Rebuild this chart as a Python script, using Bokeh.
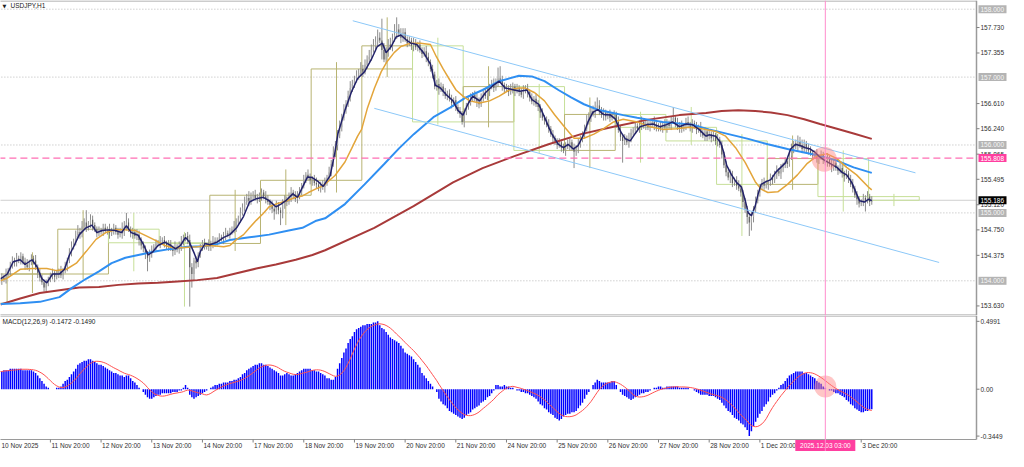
import numpy as np
import pandas as pd
from bokeh.plotting import figure
from bokeh.layouts import column
from bokeh.models import Range1d, Span
from bokeh.embed import file_html
from bokeh.resources import INLINE
from bokeh.core.properties import value

# ---------------- data ----------------
SYMBOL = "USDJPY,H1"
MACD_TITLE = "MACD(12,26,9) -0.1472 -0.1490"
FIRST_OPEN = 154.02
# H1 closes, one row per 24 bars, first bar = 10 Nov 20:00
CLOSE_ROWS = [
    [154.00, 154.05, 154.02, 154.10, 154.15, 154.22, 154.30, 154.27, 154.33, 154.30, 154.36, 154.28, 154.24, 154.20, 154.27, 154.33, 154.30, 154.20, 154.12, 154.05, 153.98, 153.90, 153.96, 154.02],
    [154.08, 154.12, 154.06, 154.10, 154.14, 154.08, 154.15, 154.22, 154.30, 154.42, 154.50, 154.58, 154.66, 154.72, 154.70, 154.80, 154.86, 154.78, 154.84, 154.90, 154.82, 154.76, 154.70, 154.74],
    [154.72, 154.78, 154.74, 154.76, 154.70, 154.74, 154.78, 154.72, 154.68, 154.74, 154.70, 154.80, 154.86, 154.76, 154.70, 154.72, 154.66, 154.68, 154.60, 154.52, 154.48, 154.40, 154.34, 154.40],
    [154.46, 154.50, 154.55, 154.56, 154.58, 154.60, 154.55, 154.50, 154.54, 154.48, 154.44, 154.50, 154.46, 154.52, 154.58, 154.62, 154.66, 154.60, 154.20, 154.10, 154.30, 154.26, 154.38, 154.48],
    [154.56, 154.52, 154.50, 154.55, 154.52, 154.58, 154.56, 154.60, 154.64, 154.62, 154.66, 154.70, 154.68, 154.72, 154.76, 154.80, 154.86, 154.92, 155.00, 155.08, 155.16, 155.22, 155.18, 155.24],
    [155.26, 155.22, 155.20, 155.26, 155.30, 155.24, 155.20, 155.16, 155.12, 155.06, 155.02, 155.10, 155.04, 155.00, 155.12, 155.20, 155.16, 155.24, 155.30, 155.26, 155.20, 155.24, 155.32, 155.40],
    [155.50, 155.56, 155.52, 155.48, 155.50, 155.44, 155.42, 155.36, 155.40, 155.38, 155.46, 155.52, 155.60, 155.72, 155.88, 156.00, 156.14, 156.26, 156.40, 156.52, 156.60, 156.72, 156.84, 156.90],
    [156.96, 157.02, 157.06, 157.12, 157.08, 157.18, 157.26, 157.30, 157.40, 157.46, 157.52, 157.58, 157.54, 157.40, 157.26, 157.38, 157.48, 157.44, 157.56, 157.62, 157.70, 157.64, 157.58, 157.66],
    [157.56, 157.50, 157.54, 157.46, 157.50, 157.44, 157.48, 157.40, 157.34, 157.38, 157.30, 157.22, 157.12, 157.04, 156.86, 156.90, 156.82, 156.86, 156.78, 156.72, 156.76, 156.68, 156.62, 156.66],
    [156.56, 156.50, 156.46, 156.34, 156.48, 156.58, 156.62, 156.70, 156.74, 156.68, 156.64, 156.60, 156.70, 156.76, 156.72, 156.80, 156.86, 156.90, 156.84, 156.92, 156.98, 156.96, 156.88, 156.82],
    [156.84, 156.78, 156.82, 156.86, 156.80, 156.84, 156.78, 156.74, 156.80, 156.84, 156.78, 156.70, 156.64, 156.68, 156.60, 156.56, 156.48, 156.40, 156.36, 156.30, 156.24, 156.16, 156.10, 156.06],
    [156.00, 156.04, 155.96, 155.92, 156.00, 155.98, 156.04, 155.96, 155.90, 155.96, 156.02, 156.08, 156.16, 156.24, 156.36, 156.42, 156.50, 156.46, 156.54, 156.58, 156.50, 156.44, 156.48, 156.42],
    [156.46, 156.40, 156.44, 156.45, 156.34, 156.22, 156.12, 156.06, 156.10, 156.04, 156.10, 156.18, 156.22, 156.28, 156.24, 156.30, 156.34, 156.28, 156.32, 156.26, 156.30, 156.34, 156.30, 156.26],
    [156.28, 156.24, 156.30, 156.26, 156.32, 156.28, 156.36, 156.40, 156.32, 156.26, 156.30, 156.24, 156.28, 156.34, 156.30, 156.26, 156.32, 156.28, 156.22, 156.26, 156.18, 156.14, 156.20, 156.12],
    [156.16, 156.10, 156.14, 156.06, 156.08, 156.00, 155.86, 155.70, 155.60, 155.52, 155.56, 155.44, 155.48, 155.40, 155.36, 155.30, 155.16, 155.06, 154.94, 154.86, 154.94, 155.06, 155.18, 155.30],
    [155.38, 155.44, 155.40, 155.42, 155.44, 155.52, 155.48, 155.56, 155.62, 155.58, 155.66, 155.70, 155.76, 155.72, 155.84, 155.96, 156.02, 155.98, 156.06, 156.00, 155.94, 156.02, 155.96, 155.92],
    [155.88, 155.84, 155.86, 155.80, 155.82, 155.86, 155.78, 155.74, 155.80, 155.72, 155.68, 155.74, 155.66, 155.62, 155.66, 155.58, 155.54, 155.58, 155.50, 155.42, 155.36, 155.26, 155.20, 155.14],
    [155.16, 155.22, 155.18, 155.24, 155.16, 155.186],
]
# wick lengths above/below the body, base-36 digits in units of WICK_UNIT
WICK_UNIT = 0.02
HI_WICK_ROWS = [
    "2324 2332 4232 3423 2423 2232", "2323 2423 2342 4534 3924 3223", "2332 4232 3264 7323 2432 3223",
    "3232 4232 3324 2343 2343 2323", "2323 2432 3234 2324 3243 4353", "3432 3243 2324 3243 2342 3432",
    "3243 2342 3432 4353 4534 3453", "3435 3435 4546 4g53 4548 9443", "3232 4323 2343 2323 4323 2332",
    "3232 3243 2343 3243 2343 8932", "3243 2323 4232 3243 2323 4232", "2323 2432 3243 2343 3456 4332",
    "2323 2432 3243 2323 4232 3242", "2324 3238 2423 2342 3232 4232", "3232 4232 3243 2343 2323 4232",
    "2343 2323 4232 3243 2343 4323", "3234 2323 4232 3243 2323 4232", "2324 23",
]
LO_WICK_ROWS = [
    "2323 2423 3232 4232 3243 2342", "2342 3232 4232 3243 2323 4232", "2323 4232 3242 3234 2343 34a3",
    "3232 4232 3243 2343 23ta 5432", "2323 4232 3243 2323 4232 3243", "3232 4232 4362 3943 3243 2323",
    "2323 4232 3243 2323 4232 3243", "3232 4232 3243 2723 4232 3243", "2323 4232 3243 2323 4232 3243",
    "3232 4232 3243 2323 4232 3243", "2323 4232 3243 2323 4232 3243", "3232 4232 c343 2323 4232 3243",
    "2323 423g 3243 2323 4232 3243", "3232 4232 3243 2323 4232 3243", "2323 4232 3243 2323 435a 6432",
    "3232 4232 3243 2323 4232 3243", "2323 4232 3243 2323 4232 3243", "2382 32",
]
# MACD main line per bar
MACD_ROWS = [
    [0.13, 0.13, 0.14, 0.14, 0.14, 0.15, 0.15, 0.15, 0.15, 0.15, 0.15, 0.14, 0.14, 0.14, 0.14, 0.14, 0.13, 0.12, 0.10, 0.08, 0.06, 0.04, 0.02, 0.01],
    [0.00, 0.00, 0.00, 0.01, 0.01, 0.02, 0.04, 0.06, 0.07, 0.09, 0.11, 0.13, 0.15, 0.18, 0.19, 0.20, 0.21, 0.21, 0.22, 0.22, 0.21, 0.20, 0.19, 0.18],
    [0.18, 0.17, 0.16, 0.15, 0.14, 0.13, 0.12, 0.12, 0.11, 0.10, 0.10, 0.09, 0.10, 0.10, 0.08, 0.06, 0.05, 0.03, 0.01, 0.00, -0.02, -0.04, -0.06, -0.07],
    [-0.07, -0.06, -0.05, -0.04, -0.04, -0.03, -0.03, -0.03, -0.03, -0.03, -0.02, -0.02, -0.02, -0.01, -0.01, 0.01, 0.03, 0.01, -0.04, -0.06, -0.07, -0.06, -0.05, -0.04],
    [-0.03, -0.02, -0.01, 0.00, 0.01, 0.02, 0.03, 0.03, 0.04, 0.04, 0.05, 0.05, 0.05, 0.06, 0.06, 0.07, 0.07, 0.08, 0.09, 0.11, 0.12, 0.14, 0.15, 0.16],
    [0.17, 0.18, 0.18, 0.19, 0.19, 0.18, 0.18, 0.17, 0.16, 0.15, 0.14, 0.13, 0.12, 0.10, 0.10, 0.11, 0.12, 0.11, 0.10, 0.10, 0.11, 0.12, 0.13, 0.14],
    [0.15, 0.15, 0.15, 0.15, 0.14, 0.14, 0.13, 0.13, 0.12, 0.11, 0.10, 0.08, 0.08, 0.07, 0.07, 0.09, 0.15, 0.19, 0.23, 0.27, 0.30, 0.34, 0.37, 0.39],
    [0.42, 0.44, 0.45, 0.46, 0.47, 0.47, 0.48, 0.48, 0.48, 0.49, 0.49, 0.499, 0.47, 0.45, 0.44, 0.42, 0.40, 0.38, 0.37, 0.36, 0.35, 0.34, 0.32, 0.30],
    [0.27, 0.26, 0.25, 0.24, 0.22, 0.20, 0.18, 0.16, 0.12, 0.10, 0.08, 0.06, 0.04, 0.02, 0.00, -0.02, -0.07, -0.09, -0.11, -0.12, -0.14, -0.16, -0.17, -0.18],
    [-0.19, -0.20, -0.21, -0.22, -0.21, -0.19, -0.18, -0.17, -0.15, -0.14, -0.13, -0.12, -0.10, -0.09, -0.08, -0.06, -0.05, -0.03, -0.01, 0.03, 0.03, 0.02, 0.02, 0.03],
    [0.02, 0.02, 0.01, 0.01, 0.00, -0.01, -0.01, -0.02, -0.02, -0.03, -0.03, -0.04, -0.05, -0.06, -0.07, -0.09, -0.11, -0.12, -0.14, -0.15, -0.17, -0.18, -0.19, -0.21],
    [-0.22, -0.23, -0.22, -0.20, -0.19, -0.18, -0.18, -0.17, -0.17, -0.16, -0.14, -0.12, -0.10, -0.07, -0.04, -0.02, 0.00, 0.03, 0.05, 0.07, 0.06, 0.05, 0.05, 0.05],
    [0.05, 0.05, 0.06, 0.06, 0.03, 0.00, -0.02, -0.04, -0.05, -0.06, -0.07, -0.08, -0.07, -0.06, -0.05, -0.04, -0.03, -0.03, -0.02, -0.02, -0.01, 0.00, 0.01, 0.01],
    [0.02, 0.02, 0.01, 0.01, 0.02, 0.02, 0.02, 0.02, 0.02, 0.02, 0.01, 0.01, 0.01, 0.01, 0.01, 0.00, 0.00, -0.01, -0.02, -0.03, -0.04, -0.04, -0.04, -0.04],
    [-0.05, -0.05, -0.05, -0.06, -0.07, -0.08, -0.10, -0.12, -0.14, -0.16, -0.17, -0.19, -0.21, -0.22, -0.23, -0.25, -0.26, -0.28, -0.30, -0.345, -0.31, -0.27, -0.24, -0.21],
    [-0.18, -0.16, -0.13, -0.11, -0.09, -0.06, -0.04, -0.03, -0.01, 0.01, 0.03, 0.04, 0.06, 0.08, 0.10, 0.11, 0.12, 0.13, 0.13, 0.13, 0.13, 0.12, 0.12, 0.11],
    [0.10, 0.09, 0.08, 0.06, 0.05, 0.04, 0.02, 0.01, 0.00, -0.01, -0.01, -0.02, -0.03, -0.03, -0.04, -0.05, -0.06, -0.08, -0.09, -0.11, -0.12, -0.14, -0.15, -0.16],
    [-0.17, -0.17, -0.16, -0.16, -0.15, -0.1472],
]
SIGNAL_PERIOD = 9

# moving averages: (bar index, price)
MA_FAST = [(0.4, 154.03), (3.6, 154.10), (6.4, 154.28), (9.7, 154.31), (12, 154.24), (15.3, 154.31), (17.6, 154.21), (20, 154.03), (22.3, 153.97), (25, 154.10), (28.3, 154.10), (30.7, 154.17), (33, 154.38), (35.3, 154.52), (37.7, 154.68), (40.9, 154.78), (43.7, 154.82), (46, 154.71), (48.4, 154.74), (51.6, 154.75), (54.9, 154.74), (57.7, 154.71), (60, 154.81), (62.3, 154.71), (65.6, 154.67), (68, 154.54), (70.3, 154.38), (72.6, 154.43), (75, 154.52), (78.2, 154.57), (81, 154.52), (83.3, 154.47), (85.6, 154.52), (88, 154.64), (89.8, 154.57), (92.2, 154.40), (93.6, 154.28), (95, 154.43), (97.3, 154.55), (99.6, 154.53), (102.9, 154.57), (106.1, 154.64), (109, 154.68), (112.2, 154.78), (115.5, 154.95), (118.3, 155.16), (121.5, 155.21), (124.8, 155.23), (127.6, 155.18), (130.8, 155.09), (133.2, 155.13), (135.5, 155.18), (138.8, 155.28), (141.1, 155.23), (143.4, 155.38), (145.8, 155.53), (148, 155.52), (150.9, 155.46), (153.2, 155.39), (156.5, 155.55), (158.8, 155.90), (160.2, 156.17), (163.5, 156.51), (166.7, 156.79), (169.5, 156.98), (172.8, 157.08), (176, 157.26), (178.8, 157.45), (181.2, 157.50), (183, 157.36), (185.4, 157.45), (187.7, 157.59), (190, 157.62), (192.4, 157.55), (194.7, 157.50), (197.5, 157.48), (200.7, 157.36), (204, 157.19), (206.3, 156.88), (208.7, 156.84), (211.5, 156.74), (214.7, 156.65), (217, 156.51), (219.4, 156.44), (221.7, 156.60), (224, 156.72), (227.3, 156.65), (230, 156.77), (233.4, 156.87), (236.6, 156.94), (239.4, 156.84), (243.6, 156.81), (246.4, 156.79), (249.7, 156.81), (252, 156.67), (255.3, 156.60), (258, 156.41), (261.3, 156.17), (264.6, 156.01), (267, 155.96), (269.2, 156.01), (271.6, 155.94), (273.9, 155.99), (276.2, 156.13), (278.6, 156.34), (280.9, 156.48), (283.2, 156.52), (286, 156.45), (289.3, 156.44), (291.6, 156.38), (294, 156.20), (296.3, 156.09), (298.6, 156.06), (301, 156.17), (303.3, 156.27), (306.5, 156.30), (309.3, 156.31), (312.6, 156.27), (315.8, 156.30), (318.6, 156.34), (321.9, 156.27), (325.2, 156.31), (328, 156.30), (331.2, 156.23), (334.5, 156.13), (335.9, 156.15), (339.1, 156.13), (341.5, 156.03), (342.9, 155.89), (344.3, 155.70), (346.6, 155.56), (348.9, 155.45), (351.3, 155.38), (353.1, 155.18), (354.5, 155.00), (356, 154.96), (357.8, 155.10), (359.2, 155.28), (360.6, 155.42), (362.9, 155.46), (365.2, 155.49), (367.6, 155.60), (369.9, 155.67), (372.2, 155.74), (374.6, 155.94), (376.9, 156.01), (379.2, 155.99), (381.5, 155.96), (383.9, 155.94), (386.2, 155.89), (388.5, 155.82), (390.9, 155.77), (393.2, 155.73), (396.5, 155.67), (398.8, 155.60), (401.1, 155.56), (403.5, 155.45), (405.8, 155.28), (407.2, 155.18), (409.5, 155.16), (411.4, 155.20), (413, 155.18)]
MA_MID = [(0.4, 154.00), (3.6, 154.04), (9.7, 154.17), (15.7, 154.18), (22.3, 154.18), (26.9, 154.15), (31.6, 154.17), (36.3, 154.26), (40.9, 154.43), (45.6, 154.61), (50.2, 154.71), (54.9, 154.75), (59.5, 154.75), (64.2, 154.74), (68.9, 154.67), (73.5, 154.60), (78.2, 154.52), (82.8, 154.48), (87.5, 154.49), (93.6, 154.50), (99.6, 154.52), (106.1, 154.50), (109, 154.52), (112.2, 154.61), (115.5, 154.68), (118.3, 154.78), (121.5, 154.89), (124.8, 154.99), (127.6, 155.09), (130.8, 155.13), (134.1, 155.16), (136.9, 155.19), (140.2, 155.23), (143.4, 155.25), (146.2, 155.30), (149.5, 155.35), (153.2, 155.40), (158.8, 155.55), (163.5, 155.75), (166.7, 155.95), (169.5, 156.13), (171.4, 156.23), (174.2, 156.55), (177.5, 156.84), (180.7, 157.08), (183.5, 157.23), (186.8, 157.36), (190, 157.45), (194.7, 157.50), (199.3, 157.50), (204, 157.48), (206.8, 157.30), (210, 157.12), (213.3, 156.95), (216.1, 156.81), (219.4, 156.72), (222.6, 156.65), (227.3, 156.62), (232, 156.65), (236.6, 156.72), (241.3, 156.81), (245.9, 156.84), (248.7, 156.84), (253.4, 156.77), (258, 156.65), (262.7, 156.45), (267.4, 156.27), (272, 156.10), (276.7, 156.10), (281.4, 156.16), (286, 156.24), (290.7, 156.34), (295.3, 156.38), (301.9, 156.34), (307.9, 156.27), (314, 156.23), (320.5, 156.24), (326.6, 156.26), (332.6, 156.24), (339.1, 156.20), (343.8, 156.13), (348.5, 155.96), (353.1, 155.74), (357.8, 155.46), (360.6, 155.35), (363.8, 155.30), (368.5, 155.31), (373.1, 155.42), (377.8, 155.56), (382.5, 155.73), (387.1, 155.84), (391.8, 155.87), (396.5, 155.80), (401.1, 155.67), (405.8, 155.56), (411.4, 155.38), (413, 155.34)]
MA_SLOW = [(0.4, 153.66), (9.7, 153.67), (19, 153.69), (28.3, 153.76), (34.4, 153.90), (40.9, 154.03), (47, 154.14), (53, 154.26), (59.5, 154.34), (65.6, 154.38), (73.5, 154.43), (81, 154.47), (88.9, 154.50), (96.8, 154.51), (102.9, 154.54), (109, 154.60), (118.3, 154.64), (127.6, 154.68), (136.9, 154.74), (143.4, 154.78), (149.5, 154.88), (154.1, 154.92), (163.5, 155.13), (172.8, 155.42), (182.1, 155.72), (189.1, 155.95), (196.1, 156.16), (205.4, 156.41), (213.3, 156.55), (220.8, 156.70), (228.7, 156.81), (236.6, 156.94), (245.9, 157.02), (252, 157.01), (258, 156.94), (264.6, 156.81), (270.6, 156.70), (276.7, 156.60), (283.2, 156.52), (289.3, 156.48), (295.3, 156.44), (301.9, 156.40), (307.9, 156.37), (314, 156.34), (320.5, 156.32), (328, 156.30), (335.9, 156.23), (345.2, 156.16), (354.5, 156.09), (363.8, 156.01), (373.1, 155.94), (381, 155.89), (388.5, 155.84), (396.5, 155.77), (404.4, 155.67), (413, 155.59)]
MA_LONG = [(0.4, 153.65), (9.7, 153.74), (19, 153.82), (28.3, 153.86), (37.6, 153.90), (47, 153.91), (56.3, 153.94), (65.6, 153.96), (74.9, 153.97), (84.2, 153.99), (93.6, 154.01), (102.9, 154.04), (112.2, 154.11), (121.5, 154.18), (130.8, 154.24), (140.2, 154.31), (148.1, 154.38), (154.1, 154.45), (177.4, 154.78), (196, 155.10), (214.7, 155.45), (228.7, 155.66), (244.1, 155.84), (259.9, 156.01), (275.3, 156.16), (290.7, 156.27), (306.5, 156.37), (321.9, 156.44), (334.5, 156.47), (341.9, 156.50), (349.8, 156.51), (357.8, 156.50), (365.2, 156.48), (373.1, 156.44), (381, 156.38), (388.5, 156.31), (396.5, 156.24), (404.4, 156.17), (413, 156.09)]
CHANNEL_UPPER = [(167.2, 157.83), (433.7, 155.59)]
CHANNEL_LOWER = [(177.4, 156.54), (444.9, 154.27)]

# daily (D1) boxes: first full day starts at bar 4 (11 Nov 00:00)
FIRST_DAY_BAR = 4
BARS_PER_DAY = 24
PREV_DAY = dict(start=-20, open=153.67, high=154.30, low=153.50)

GRID_LEVELS = [158.0, 157.0, 156.0, 155.0, 154.0]
PRICE_TICKS = [157.730, 157.355, 156.610, 156.240, 155.865, 155.495, 155.120, 154.750, 154.375, 153.630]
ALERT_LEVEL = 155.808
LAST_PRICE = 155.186
MACD_TICKS = [0.4991, 0.0, -0.3449]
MACD_TICK_TEXT = ["0.4991", "0.00", "-0.3449"]
MARK_BAR = 391
MARK_TEXT = "2025.12.03 03:00"
MARK_PRICE = 155.79
MARK_MACD = 0.02
DATE_TICK_BARS = [24, 48, 72, 96, 120, 144, 168, 192, 216, 240, 264, 288, 312, 336, 360, 408]
DATE_TICK_TEXT = ["11 Nov 20:00", "12 Nov 20:00", "13 Nov 20:00", "14 Nov 20:00", "17 Nov 20:00",
                  "18 Nov 20:00", "19 Nov 20:00", "20 Nov 20:00", "21 Nov 20:00", "24 Nov 20:00",
                  "25 Nov 20:00", "26 Nov 20:00", "27 Nov 20:00", "28 Nov 20:00", "1 Dec 20:00", "3 Dec 20:00"]
FIRST_DATE_TEXT = "10 Nov 2025"

# ---------------- build series ----------------
closes = np.array(sum(CLOSE_ROWS, []), dtype=float)
n = len(closes)
bars = np.arange(n)
opens = np.r_[FIRST_OPEN, closes[:-1]]
hw = np.array([int(c, 36) for c in "".join(HI_WICK_ROWS).replace(" ", "")]) * WICK_UNIT
lw = np.array([int(c, 36) for c in "".join(LO_WICK_ROWS).replace(" ", "")]) * WICK_UNIT
assert len(hw) == n and len(lw) == n
highs = np.maximum(opens, closes) + hw
lows = np.minimum(opens, closes) - lw
macd = np.array(sum(MACD_ROWS, []), dtype=float)
assert len(macd) == n
signal = pd.Series(macd).rolling(SIGNAL_PERIOD, min_periods=1).mean().values

# ---------------- layout ----------------
W = 1008
FW = 976                      # width of the chart area, the price scale sits to its right
X0, XE = 0.37, 462.6          # bar range shown in the chart area
XPX = (XE - X0) / FW          # bars per pixel
XR = Range1d(X0, X0 + W * XPX)
H1, H2 = 315, 136
P_LO, P_HI = 153.489, 158.128
M_LO, M_HI = -0.370, 0.542
M_PX = (M_HI - M_LO) / 124
M_BOT = M_LO - 12 * M_PX      # room for the time scale
FONT = value("Liberation Sans")
FS = value("6.5px")
AX = "#9a9a9a"

def fig(h, yr):
    p = figure(width=W, height=h, x_range=XR, y_range=yr, x_axis_location=None,
               y_axis_location=None, output_backend="svg", toolbar_location=None,
               min_border=0)
    p.grid.visible = False
    p.outline_line_color = None
    p.background_fill_color = "white"
    p.border_fill_color = "white"
    return p

p1 = fig(H1, Range1d(P_LO, P_HI))
p2 = fig(H2, Range1d(M_BOT, M_HI))
PPX = (P_HI - P_LO) / H1

def hline(p, y, **kw):
    p.segment(x0=[X0 - 1], y0=[y], x1=[XE], y1=[y], **kw)

def scale_text(p, ys, texts, color="#303030"):
    p.segment(x0=[XE] * len(ys), y0=ys, x1=[XE + 3 * XPX] * len(ys), y1=ys, line_color="#808080")
    p.text(x=[XE] * len(ys), y=ys, text=texts, x_offset=4, text_font=FONT, text_font_size=FS,
           text_color=color, text_baseline="middle", text_align="left")

def tags(p, ys, texts, bg, fg):
    p.rect(x=[XE + 16 * XPX] * len(ys), y=ys, width=28, height=8, width_units="screen",
           height_units="screen", fill_color=bg, line_color=None)
    p.text(x=[XE] * len(ys), y=ys, text=texts, x_offset=4, text_font=FONT, text_font_size=FS,
           text_color=fg, text_baseline="middle", text_align="left")

# ---- main panel ----
for lv in GRID_LEVELS:
    hline(p1, lv, line_color="#b8b8b8", line_dash="1 2", line_width=1)
hline(p1, LAST_PRICE, line_color="#cfcfcf", line_width=1)

BULL, BEAR = "#b8b473", "#c6df98"
bx_l, bx_r, bx_t, bx_b, bx_c, wk_x, wk_h, wk_l = [], [], [], [], [], [], [], []
def add_day(s, o, h, l, c):
    bx_l.append(s - 0.5); bx_r.append(s + BARS_PER_DAY - 0.5)
    bx_t.append(max(o, c)); bx_b.append(min(o, c))
    bx_c.append(BULL if c >= o else BEAR)
    wk_x.append(s + BARS_PER_DAY / 2 - 0.5); wk_h.append(h); wk_l.append(l)
add_day(PREV_DAY["start"], PREV_DAY["open"], PREV_DAY["high"], PREV_DAY["low"], closes[FIRST_DAY_BAR - 1])
s = FIRST_DAY_BAR
while s < n:
    idx = np.arange(s, min(s + BARS_PER_DAY, n))
    add_day(s, opens[s], highs[idx].max(), lows[idx].min(), closes[idx[-1]])
    s += BARS_PER_DAY
p1.segment(x0=wk_x, y0=wk_l, x1=wk_x, y1=wk_h, line_color=bx_c, line_width=1)
p1.quad(left=bx_l, right=bx_r, top=bx_t, bottom=bx_b, fill_color=None, line_color=bx_c, line_width=1)

up = closes >= opens
p1.segment(x0=bars, y0=lows, x1=bars, y1=highs, line_color="#8c8c8c", line_width=1)
body_col = np.where(up, "#a6a6a6", "#5e5e5e")
p1.vbar(x=bars, width=0.55, top=np.maximum(opens, closes), bottom=np.minimum(opens, closes),
        fill_color=list(body_col), line_color=None)

def xy(pts):
    return [a for a, _ in pts], [b for _, b in pts]
for pts, col, lw_ in ((MA_LONG, "#a83a3a", 2), (MA_SLOW, "#2f8ff2", 2),
                      (MA_MID, "#e3a53a", 1.5), (MA_FAST, "#22226a", 1.5)):
    x_, y_ = xy(pts)
    p1.line(x_, y_, line_color=col, line_width=lw_)
for pts in (CHANNEL_UPPER, CHANNEL_LOWER):
    x_, y_ = xy(pts)
    p1.line(x_, y_, line_color="#8cc8f8", line_width=1)

hline(p1, ALERT_LEVEL, line_color="#ff6eb4", line_dash="7 4", line_width=1.2)
p1.add_layout(Span(location=MARK_BAR, dimension="height", line_color="#ff8ccc", line_width=1))
p1.scatter([MARK_BAR - 0.5], [MARK_PRICE], size=25, fill_color="#ff8080", fill_alpha=0.45, line_color=None)

# frame of the main panel
p1.segment(x0=[X0 - 1, X0 - 1], y0=[P_HI - 0.5 * PPX, P_LO + 0.5 * PPX], x1=[XE, XE],
           y1=[P_HI - 0.5 * PPX, P_LO + 0.5 * PPX], line_color=AX, line_width=1)
p1.segment(x0=[XE], y0=[P_LO], x1=[XE], y1=[P_HI], line_color=AX, line_width=1.5)
scale_text(p1, PRICE_TICKS, [f"{t:.3f}" for t in PRICE_TICKS])
tags(p1, GRID_LEVELS, [f"{lv:.3f}" for lv in GRID_LEVELS], "#b4b4b4", "#f6f6f6")
tags(p1, [ALERT_LEVEL], [f"{ALERT_LEVEL:.3f}"], "#ff3fa0", "white")
tags(p1, [LAST_PRICE], [f"{LAST_PRICE:.3f}"], "#000000", "white")

p1.text(x=[X0], y=[P_HI - 2 * PPX], text=["\u25bc"], x_offset=2, text_font=value("DejaVu Sans"),
        text_font_size=value("5px"), text_color="#202020", text_baseline="top")
p1.text(x=[X0], y=[P_HI - 1 * PPX], text=[SYMBOL], x_offset=10, text_font=FONT, text_font_size=FS,
        text_color="#202020", text_baseline="top")

# ---- MACD panel ----
p2.vbar(x=bars, width=0.7, top=macd, bottom=0, fill_color="#0000ff", line_color=None)
p2.line(bars, signal, line_color="#ff5050", line_width=1)
p2.add_layout(Span(location=MARK_BAR, dimension="height", line_color="#ff8ccc", line_width=1))
p2.scatter([MARK_BAR], [MARK_MACD], size=22, fill_color="#ff8080", fill_alpha=0.45, line_color=None)
p2.text(x=[X0], y=[M_HI - 2 * M_PX], text=[MACD_TITLE], x_offset=2, text_font=FONT, text_font_size=FS,
        text_color="#202020", text_baseline="top")

p2.segment(x0=[X0 - 1, X0 - 1], y0=[M_HI - 0.5 * M_PX, M_LO], x1=[XE, XE],
           y1=[M_HI - 0.5 * M_PX, M_LO], line_color=AX, line_width=1)
p2.segment(x0=[XE], y0=[M_LO], x1=[XE], y1=[M_HI], line_color=AX, line_width=1.5)
scale_text(p2, MACD_TICKS, MACD_TICK_TEXT)

# time scale
p2.segment(x0=DATE_TICK_BARS, y0=[M_LO] * len(DATE_TICK_BARS), x1=DATE_TICK_BARS,
           y1=[M_LO - 3 * M_PX] * len(DATE_TICK_BARS), line_color="#808080")
p2.text(x=[X0] + DATE_TICK_BARS, y=[M_LO] * (len(DATE_TICK_BARS) + 1), text=[FIRST_DATE_TEXT] + DATE_TICK_TEXT,
        x_offset=1, y_offset=2, text_font=FONT, text_font_size=FS, text_color="#303030",
        text_baseline="top", text_align="left")
p2.rect(x=[MARK_BAR], y=[M_LO - 6 * M_PX], width=60, height=11, width_units="screen",
        height_units="screen", fill_color="#ff3fa0", line_color=None)
p2.text(x=[MARK_BAR], y=[M_LO - 6 * M_PX], text=[MARK_TEXT], text_font=FONT, text_font_size=FS,
        text_color="white", text_baseline="middle", text_align="center")

layout = column(p1, p2, spacing=0)
open("out.html", "w").write(file_html(layout, INLINE))
